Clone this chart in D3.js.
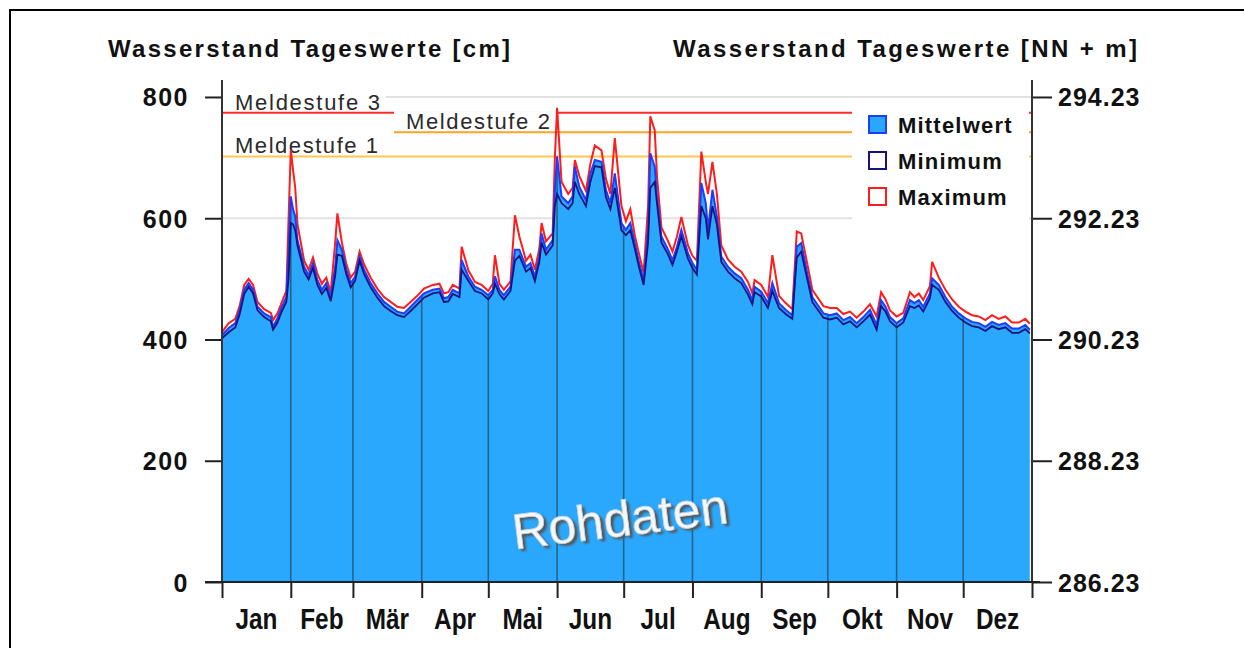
<!DOCTYPE html>
<html>
<head>
<meta charset="utf-8">
<script src="https://cdn.jsdelivr.net/npm/d3@7"></script>
<style>
  body { margin: 0; background: #fff; }
  svg { display: block; }
</style>
</head>
<body>
<script>
// Tageswerte, Tag des Jahres (0 = 1. Jan)
var days = [0,3,6,8,10,12,14,16,19,22,23,25,27,29,30,31,32,33,34,37,39,41,43,45,47,49,51,52,54,56,58,60,62,64,67,70,73,76,79,82,85,88,91,95,98,100,102,104,107,108,111,114,117,120,122,123,125,127,130,132,134,137,139,141,143,144,146,149,150,151,153,156,158,159,161,164,166,168,171,173,175,177,180,182,184,186,188,190,192,193,195,196,198,201,203,205,207,210,212,214,216,218,219,221,223,225,228,231,234,237,239,240,243,246,248,251,254,257,259,261,264,266,269,271,274,277,280,283,286,289,292,295,297,299,301,304,307,310,312,314,316,319,320,323,326,329,332,335,338,341,344,347,350,353,356,359,362,364];
var meanVals = [407,419,427,449,482,493,482,454,443,437,421,435,454,470,548,636,615,603,564,520,506,526,498,482,493,470,520,564,548,515,493,504,537,515,493,476,462,454,446,443,454,465,476,482,484,468,470,482,476,531,504,487,482,473,482,504,482,473,487,548,548,520,526,504,537,575,548,564,647,702,636,625,636,685,652,630,674,696,693,647,625,674,592,581,592,559,526,498,581,707,685,636,570,548,531,553,581,542,526,515,658,625,581,647,603,537,520,509,501,482,465,487,479,460,493,460,449,440,553,559,504,470,454,443,440,443,432,437,427,437,449,424,465,454,437,427,435,465,460,465,454,476,501,490,470,454,443,435,429,427,421,429,424,427,418,418,424,416];
var minVals = [402,412,420,442,475,487,476,448,437,430,416,428,447,462,500,592,590,580,555,512,499,518,490,475,485,463,505,540,538,508,486,497,530,508,486,469,455,447,440,437,447,458,469,476,478,462,463,475,470,515,497,480,476,466,476,492,475,466,480,530,538,512,518,496,528,560,540,555,620,640,625,615,625,660,640,620,660,686,684,635,615,650,580,572,580,550,518,490,560,650,660,625,560,540,523,545,570,533,518,507,620,600,565,620,590,528,512,501,493,474,458,478,471,452,480,452,442,434,535,545,495,462,446,436,433,436,425,430,420,430,441,416,455,446,430,420,428,455,452,456,446,468,490,482,462,447,436,428,422,420,414,422,417,420,411,411,417,410];
var maxVals = [412,427,434,456,490,500,490,462,450,444,432,443,462,480,600,712,680,650,590,530,515,535,508,492,502,478,560,608,560,525,502,512,545,524,502,484,470,462,454,452,462,472,484,490,492,476,478,490,484,553,514,495,490,480,492,539,492,482,496,605,570,530,540,515,550,592,562,575,700,782,660,640,650,696,670,645,690,720,712,665,640,732,620,595,615,572,540,510,620,768,745,670,585,562,545,570,602,555,538,530,710,660,640,693,640,555,532,520,512,495,476,498,490,470,539,472,460,450,578,575,520,482,466,455,452,452,442,446,436,446,458,438,478,466,448,438,444,478,470,476,465,488,528,502,482,466,454,446,440,438,432,440,434,438,428,428,434,426];

var monthNames = ['Jan','Feb','Mär','Apr','Mai','Jun','Jul','Aug','Sep','Okt','Nov','Dez'];
var monthStarts = [0,31,59,90,120,151,181,212,243,273,304,334,365];
var cmTicks = [0,200,400,600,800];
var nnTicks = [286.23,288.23,290.23,292.23,294.23];
var levelNames = ['Meldestufe 1','Meldestufe 2','Meldestufe 3'];
var levelVals = [702,742,774];
var levelColors = ['#ffc850','#ffa326','#ff2a2a'];
var legendNames = ['Mittelwert','Minimum','Maximum'];

var W = 1244, H = 648;
var pL = 222, pR = 1032, pT = 80, pB = 582;
var pegelNull = 286.23;

var svg = d3.select('body').append('svg').attr('width', W).attr('height', H);

// Rahmen
svg.append('path')
    .attr('d', 'M10,' + H + 'V10H' + W)
    .style('fill', 'none')
    .style('stroke', '#000')
    .style('stroke-width', 2);

var x = d3.scaleLinear().domain([0, 365]).range([pL, pR]);
var y = d3.scaleLinear().domain([0, 828]).range([pB, pT]);
var y2 = d3.scaleLinear().domain([pegelNull, pegelNull + 8.28]).range([pB, pT]);

var rows = days.map(function(d, i){
    return {day: d, mean: meanVals[i], min: minVals[i], max: maxVals[i]};
});

// Gitter
svg.append('g').selectAll('line')
    .data(cmTicks.slice(1))
    .enter().append('line')
    .attr('x1', pL).attr('x2', pR)
    .attr('y1', function(d){return y(d)}).attr('y2', function(d){return y(d)})
    .style('stroke', '#e2e2e2')
    .style('stroke-width', 2);

// Meldestufen
var labelX = [235, 406, 235];
var labelW = [143, 144, 145];
var lineStart = [pL, 394, pL];
svg.append('g').selectAll('line')
    .data(levelVals)
    .enter().append('line')
    .attr('x1', function(d, i){return lineStart[i]})
    .attr('x2', pR)
    .attr('y1', function(d){return y(d)}).attr('y2', function(d){return y(d)})
    .style('stroke', function(d, i){return levelColors[i]})
    .style('stroke-width', 2);

var lab = svg.append('g').selectAll('g')
    .data(levelVals)
    .enter().append('g');
lab.append('rect')
    .attr('x', function(d, i){return labelX[i] - 12})
    .attr('y', function(d){return y(d) - 21})
    .attr('width', function(d, i){return labelW[i] + 18})
    .attr('height', 18)
    .style('fill', '#fff');
lab.append('text')
    .attr('x', function(d, i){return labelX[i]})
    .attr('y', function(d){return y(d) - 3})
    .attr('textLength', function(d, i){return labelW[i]})
    .attr('lengthAdjust', 'spacing')
    .style('font-family', 'Liberation Sans, Arial, sans-serif')
    .style('font-size', '22px')
    .style('fill', '#2a2a2a')
    .text(function(d, i){return levelNames[i]});

// Mittelwert-Fläche
var area = d3.area()
    .x(function(d){return x(d.day)})
    .y0(y(0))
    .y1(function(d){return y(d.mean)});
var line = function(key){
    return d3.line()
        .x(function(d){return x(d.day)})
        .y(function(d){return y(d[key])});
};

svg.append('clipPath').attr('id', 'areaClip')
    .append('path').attr('d', area(rows));

svg.append('path')
    .attr('d', area(rows))
    .style('fill', '#2aa8fd');

svg.append('g').attr('clip-path', 'url(#areaClip)')
    .selectAll('line')
    .data(monthStarts.slice(1, 12))
    .enter().append('line')
    .attr('x1', function(d){return x(d)}).attr('x2', function(d){return x(d)})
    .attr('y1', pT).attr('y2', pB)
    .style('stroke', '#24648c')
    .style('stroke-width', 1.6);

svg.append('path')
    .attr('d', line('max')(rows))
    .style('fill', 'none').style('stroke', '#ff1c1c').style('stroke-width', 2);
svg.append('path')
    .attr('d', line('mean')(rows))
    .style('fill', 'none').style('stroke', '#1e3cff').style('stroke-width', 2);
svg.append('path')
    .attr('d', line('min')(rows))
    .style('fill', 'none').style('stroke', '#14147c').style('stroke-width', 1.8);

// Wasserzeichen
var defs = svg.append('defs');
defs.append('filter').attr('id', 'blur')
    .append('feGaussianBlur').attr('stdDeviation', 1.2);
var wm = svg.append('g').attr('transform', 'translate(622,536) rotate(-7)');
wm.append('text')
    .attr('x', 3).attr('y', 3)
    .attr('text-anchor', 'middle')
    .attr('filter', 'url(#blur)')
    .style('font-family', 'Liberation Sans, Arial, sans-serif')
    .style('font-size', '50px')
    .style('fill', '#555')
    .text('Rohdaten');
wm.append('text')
    .attr('text-anchor', 'middle')
    .style('font-family', 'Liberation Sans, Arial, sans-serif')
    .style('font-size', '50px')
    .style('fill', '#f4f8fc')
    .style('stroke', '#c8d0d8')
    .style('stroke-width', 0.8)
    .text('Rohdaten');

// Legende
svg.append('rect')
    .attr('x', 852).attr('y', 101)
    .attr('width', 177).attr('height', 119)
    .style('fill', '#fff');
var legFill = ['#2aa8fd', '#fff', '#fff'];
var legStroke = ['#1e3cff', '#14147c', '#ff1c1c'];
var leg = svg.append('g').selectAll('g')
    .data(legendNames)
    .enter().append('g')
    .attr('transform', function(d, i){return 'translate(869,' + (116 + i * 36) + ')'});
leg.append('rect')
    .attr('width', 17).attr('height', 17)
    .style('fill', function(d, i){return legFill[i]})
    .style('stroke', function(d, i){return legStroke[i]})
    .style('stroke-width', 2);
leg.append('text')
    .attr('x', 29).attr('y', 17)
    .style('font-family', 'Liberation Sans, Arial, sans-serif')
    .style('font-weight', 'bold')
    .style('font-size', '22px')
    .style('letter-spacing', '1.2px')
    .style('fill', '#111')
    .text(function(d){return d});

// Achsen
var axisFont = function(g, size){
    g.selectAll('text')
        .style('font-family', 'Liberation Sans, Arial, sans-serif')
        .style('font-weight', 'bold')
        .style('font-size', size)
        .style('fill', '#111');
    g.selectAll('line').style('stroke', '#222').style('stroke-width', 2);
    g.select('.domain').remove();
};

var gl = svg.append('g').attr('transform', 'translate(' + pL + ',0)')
    .call(d3.axisLeft(y).tickValues(cmTicks).tickSize(17).tickPadding(16).tickFormat(d3.format('d')));
axisFont(gl, '25px');
gl.selectAll('text').style('letter-spacing', '1.5px').attr('dy', '0.36em');

var gr = svg.append('g').attr('transform', 'translate(' + pR + ',0)')
    .call(d3.axisRight(y2).tickValues(nnTicks).tickSize(20).tickPadding(6).tickFormat(d3.format('.2f')));
axisFont(gr, '25px');
gr.selectAll('text').style('letter-spacing', '1px').attr('dy', '0.36em');

var gb = svg.append('g').attr('transform', 'translate(0,' + pB + ')')
    .call(d3.axisBottom(x).tickValues(monthStarts).tickSize(16).tickFormat(''));
axisFont(gb, '29px');

svg.append('g').selectAll('text')
    .data(monthNames)
    .enter().append('text')
    .attr('transform', function(d, i){
        return 'translate(' + x((monthStarts[i] + monthStarts[i + 1]) / 2) + ',629) scale(0.84,1)';
    })
    .attr('text-anchor', 'middle')
    .style('font-family', 'Liberation Sans, Arial, sans-serif')
    .style('font-weight', 'bold')
    .style('font-size', '29px')
    .style('fill', '#111')
    .text(function(d){return d});

svg.append('line')
    .attr('x1', pL).attr('x2', pL).attr('y1', pT).attr('y2', pB)
    .style('stroke', '#333').style('stroke-width', 2);
svg.append('line')
    .attr('x1', pR).attr('x2', pR).attr('y1', pT).attr('y2', pB)
    .style('stroke', '#333').style('stroke-width', 2);
svg.append('line')
    .attr('x1', 205).attr('x2', 1040).attr('y1', pB).attr('y2', pB)
    .style('stroke', '#222').style('stroke-width', 2);

// Titel
svg.append('text')
    .attr('x', 108).attr('y', 57)
    .attr('textLength', 402).attr('lengthAdjust', 'spacing')
    .style('font-family', 'Liberation Sans, Arial, sans-serif')
    .style('font-weight', 'bold').style('font-size', '24px').style('fill', '#111')
    .text('Wasserstand Tageswerte [cm]');
svg.append('text')
    .attr('x', 673).attr('y', 57)
    .attr('textLength', 464).attr('lengthAdjust', 'spacing')
    .style('font-family', 'Liberation Sans, Arial, sans-serif')
    .style('font-weight', 'bold').style('font-size', '24px').style('fill', '#111')
    .text('Wasserstand Tageswerte [NN + m]');
</script>
</body>
</html>
